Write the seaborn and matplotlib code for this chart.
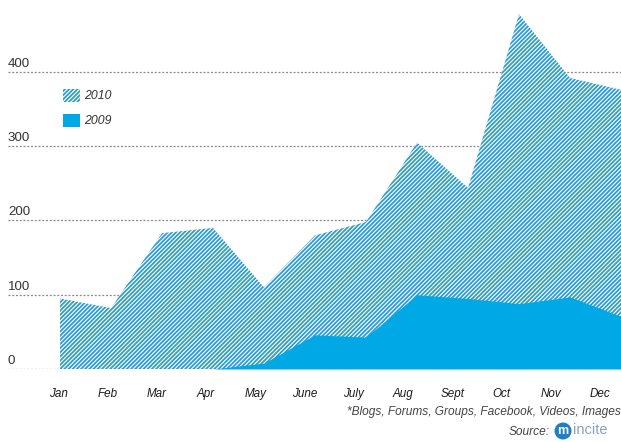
import numpy as np
import pandas as pd
import seaborn as sns
import matplotlib
matplotlib.use("Agg")
import matplotlib.pyplot as plt
from matplotlib.patches import Patch

months = ["Jan", "Feb", "Mar", "Apr", "May", "June", "July", "Aug", "Sept", "Oct", "Nov", "Dec"]
values_2010 = [95, 82, 183, 190, 110, 180, 198, 305, 244, 478, 392, 376]
values_2009 = [0, 0, 0, 0, 8, 46, 43, 100, 95, 88, 97, 71]
y_ticks = [0, 100, 200, 300, 400, 500]
y_tick_labels = ["0", "100", "200", "300", "400", ""]
footnote = "*Blogs, Forums, Groups, Facebook, Videos, Images"

sns.set_theme(style="white")
plt.rcParams["font.family"] = ["Liberation Sans", "DejaVu Sans"]
plt.rcParams["hatch.linewidth"] = 1.3

HATCH = "#2e9dcb"
SOLID = "#00a9e6"
GRID = "#8a8a8a"

W, H = 621, 442
fig = plt.figure(figsize=(W / 100, H / 100), dpi=100)
ax = fig.add_axes([8 / W, (H - 369) / H, (W - 8) / W, (369 + 4.5) / H])

df = pd.DataFrame({"idx": np.arange(len(months)), "y2010": values_2010, "y2009": values_2009})
sns.lineplot(data=df, x="idx", y="y2010", ax=ax, lw=0, color=HATCH)
sns.lineplot(data=df, x="idx", y="y2009", ax=ax, lw=0, color=SOLID)
ax.fill_between(df["idx"], 0, df["y2010"], facecolor="white", edgecolor=HATCH,
                hatch="////////", linewidth=0, zorder=2)
ax.fill_between(df["idx"], 0, df["y2009"], facecolor=SOLID, edgecolor=SOLID,
                linewidth=0, zorder=3)

ax.set_xlim(-1.02, 11)
ax.set_ylim(0, 503)
for s in ax.spines.values():
    s.set_visible(False)

for v, lab in zip(y_ticks, y_tick_labels):
    ax.axhline(v, color=GRID, lw=0.9, ls=(0, (1.6, 1.4)), zorder=4 if v == 0 else 1)
    if lab:
        ax.text(-1.02, v + 3, lab, ha="left", va="bottom", fontsize=9.6, color="#333333")

ax.set_yticks([])
ax.set_xticks(np.arange(len(months)) * 0.967 - 0.04)
ax.set_xticklabels(months, fontsize=8.4, style="italic", color="#1a1a1a")
ax.tick_params(axis="x", length=0, pad=14)
ax.set_xlabel("")
ax.set_ylabel("")

handles = [Patch(facecolor="white", edgecolor=HATCH, hatch="////////", linewidth=0, label="2010"),
           Patch(facecolor=SOLID, edgecolor=SOLID, linewidth=0, label="2009")]
leg = ax.legend(handles=handles, loc="upper left", bbox_to_anchor=(63 / W, 1 - 89 / H),
                bbox_transform=fig.transFigure, frameon=False, fontsize=8.8,
                handlelength=1.35, handleheight=1.2, handletextpad=0.35,
                labelspacing=0.95, borderpad=0, borderaxespad=0)
for t in leg.get_texts():
    t.set_style("italic")
    t.set_color("#333333")

fig.text(1.0, 1 - 412 / H, footnote, ha="right", va="center", fontsize=8.6,
         style="italic", color="#444444")
fig.text(550 / W, 1 - 432 / H, "Source:", ha="right", va="center", fontsize=8.6,
         style="italic", color="#444444")
fig.text(563 / W, 1 - 431 / H, "m", ha="center", va="center", fontsize=9, color="white",
         fontweight="bold",
         bbox=dict(boxstyle="circle,pad=0.2", fc="#1f7fc4", ec="none"))
fig.text(573 / W, 1 - 430 / H, "incite", ha="left", va="center", fontsize=10.5,
         color="#8aa2bd")

fig.savefig("out.png", dpi=100)
